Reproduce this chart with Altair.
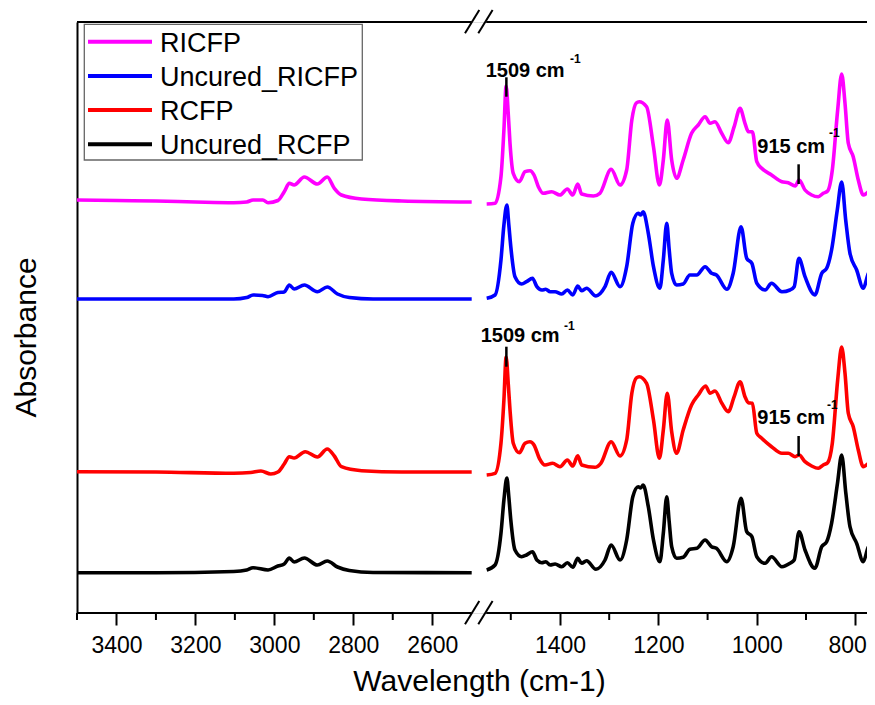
import altair as alt
import pandas as pd

FONT = "Liberation Sans"
SERIES = ["RICFP", "Uncured_RICFP", "RCFP", "Uncured_RCFP"]
COLORS = ["#ff00ff", "#0000ff", "#ff0000", "#000000"]

# ---- 3500-2500 cm-1 region ----
L_WN_RICFP = [3500, 3400, 3300, 3200, 3103, 3070, 3054, 3029, 3016, 2991, 2975, 2962, 2950, 2924, 2891, 2866, 2848, 2830, 2779, 2677, 2500]
L_AB_RICFP = [413, 412.5, 412, 411, 410.3, 411, 413, 413, 410.3, 412.5, 421.3, 429.7, 428, 436, 429, 436, 424.7, 418, 414, 412, 411]
L_WN_URICFP = [3500, 3300, 3103, 3070, 3054, 3030, 3016, 2991, 2975, 2962, 2950, 2924, 2891, 2866, 2840, 2810, 2750, 2500]
L_AB_URICFP = [314, 314, 314, 315.5, 318, 317.5, 316.3, 320.5, 321, 328, 324, 328, 321.3, 326, 319, 315.5, 314, 314]
L_WN_RCFP = [3500, 3300, 3103, 3060, 3034, 3009, 2991, 2975, 2962, 2950, 2922, 2891, 2866, 2848, 2830, 2779, 2677, 2500]
L_AB_RCFP = [141.3, 141, 139.7, 140.5, 142, 139, 141, 149, 156.3, 155, 161.3, 156, 164, 157, 146.3, 142.3, 141, 141]
L_WN_URCFP = [3500, 3300, 3103, 3070, 3054, 3016, 2991, 2975, 2962, 2950, 2924, 2891, 2866, 2840, 2810, 2750, 2500]
L_AB_URCFP = [40.3, 40.3, 41.5, 43, 45.3, 43, 47, 49, 55, 51, 55, 48, 52, 46, 42.5, 40.5, 40.3]

# ---- 1550-760 cm-1 region ----
R_WN_RICFP = [1549, 1532, 1520, 1514, 1509.5, 1505, 1501.6, 1495, 1482.7, 1471, 1461, 1452.8, 1444, 1434, 1417, 1400, 1385, 1374, 1364, 1356, 1332, 1319, 1296, 1278, 1264.5, 1254, 1245, 1239, 1224, 1210, 1198, 1190, 1182, 1173, 1163, 1149.6, 1132.6, 1119, 1105, 1095, 1085, 1071.4, 1058, 1046, 1034, 1024, 1017, 1009, 1000, 990, 970, 949, 936, 922, 914, 902, 888.5, 875, 865, 856, 846.5, 835.6, 827.5, 820.7, 814, 804, 793.7, 783.5, 773, 760]
R_AB_RICFP = [409, 409.7, 436.3, 483, 527, 498, 469.7, 439.7, 431.3, 441.3, 442.3, 438, 426.3, 419.7, 421.3, 418, 424, 418, 429, 419, 417, 419.7, 443.7, 428, 443, 493, 510, 511.3, 506.3, 466.3, 428, 453, 493, 453, 434.7, 453, 479.7, 488, 496.3, 489.7, 491.3, 479.7, 470.3, 486.3, 504.7, 489.7, 481.3, 481.3, 451.3, 444.7, 438, 431.3, 430.3, 427, 433, 423, 418, 416.3, 419.7, 422, 443, 503, 539, 509.7, 469.7, 456.3, 433, 418, 421.3, 427]
R_WN_URICFP = [1549, 1532, 1520, 1514, 1508, 1504, 1500, 1491.5, 1478, 1468, 1456, 1447, 1437, 1429, 1420, 1410, 1396.5, 1385, 1374, 1364, 1356, 1346, 1327, 1308.5, 1296, 1278, 1264.5, 1252, 1241, 1236, 1231, 1220.5, 1210, 1197, 1190, 1183, 1178, 1173, 1163, 1149.6, 1136, 1122, 1105, 1092, 1082, 1061, 1048, 1032, 1020.5, 1010, 1000, 983, 970, 949, 932.5, 924, 914.4, 902, 882, 868, 858, 848, 836.4, 827.5, 819.3, 810.6, 797, 783.5, 773, 760]
R_AB_URICFP = [314.7, 318, 353, 388, 408, 388, 366.3, 336.3, 329, 331.3, 334.7, 326.3, 323, 323.7, 321.3, 321.3, 319, 323, 318, 327, 322.3, 324.7, 317, 326.3, 340.7, 326.3, 346.3, 389.7, 399.7, 398, 401.3, 379.7, 346.3, 324.7, 353, 389.7, 363, 339.7, 328, 329, 338, 338, 346.3, 339.7, 338, 323.7, 339.7, 386.3, 354.7, 349.7, 329.7, 323, 329.7, 321.3, 323, 326.3, 354.7, 336.3, 318, 339.7, 344.7, 363, 403, 431, 393, 359.7, 343, 324.7, 339.7, 344.7]
R_WN_RCFP = [1549, 1532, 1520, 1514, 1509.5, 1505, 1501.6, 1495, 1482.7, 1471, 1461, 1452.8, 1442, 1430.5, 1415, 1400, 1385, 1374, 1364, 1356, 1329, 1317, 1296, 1278, 1264.5, 1254, 1245, 1239, 1224, 1210, 1198, 1190, 1182, 1173, 1163, 1149.6, 1132.6, 1119, 1104, 1095, 1085, 1071, 1058, 1046, 1034, 1024, 1017, 1009, 1000, 990, 970, 949, 936, 922, 914, 902, 888.5, 875, 865, 856, 846.5, 835.6, 827.5, 820.7, 814, 804, 793.7, 783.5, 773, 760]
R_AB_RCFP = [138, 139.7, 169.7, 213, 256, 228, 203, 169.7, 160.3, 169.7, 171.3, 168, 154.7, 148, 149.7, 146.3, 153, 147, 157.3, 148, 145.7, 149.7, 171.3, 157, 173, 219.7, 235, 236.3, 229.7, 193, 154.7, 183, 219.7, 181.3, 159.7, 183, 208, 218, 227, 219.7, 222, 209.7, 201.3, 216.3, 231.3, 216.3, 210.3, 209.7, 179.7, 174.7, 166.3, 159.7, 159.7, 156.3, 158, 151.3, 147, 144.7, 148, 150.3, 169.7, 233, 266, 239.7, 199.7, 186.3, 163, 146.3, 149.7, 154.7]
R_WN_URCFP = [1549, 1532, 1520, 1514, 1508, 1504, 1500, 1491.5, 1478, 1468, 1456, 1447, 1437, 1429, 1420, 1410, 1396.5, 1385, 1374, 1364, 1356, 1346, 1327, 1308.5, 1296, 1278, 1264.5, 1252, 1241, 1236, 1231, 1220.5, 1210, 1197, 1190, 1183, 1178, 1173, 1163, 1149.6, 1136, 1122, 1105, 1092, 1082, 1061, 1048, 1032, 1020.5, 1010, 1000, 983, 970, 949, 932.5, 924, 914, 902, 882, 868, 858, 848, 836, 827.5, 819, 810.6, 797, 783.5, 773, 760]
R_AB_URCFP = [43, 48, 79.7, 113, 135, 116, 93, 63, 56.3, 58, 61.3, 53, 50.3, 51.3, 48, 49, 46.3, 50.3, 45.7, 54.7, 49.7, 52.3, 43.7, 53, 68, 53, 73, 116.3, 126.3, 125, 128, 106.3, 73, 51.3, 79.7, 116.3, 91, 66.3, 54.7, 55.7, 63.7, 64.7, 73, 66.3, 64.7, 51.3, 66.3, 114.7, 81.3, 76.3, 56.3, 49.7, 56.3, 46.3, 49.7, 53, 81.3, 63, 44.7, 66.3, 71.3, 89.7, 129.7, 158, 119.7, 86.3, 69.7, 51.3, 66.3, 69.7]

# axis ticks
MAJOR_TICKS = [3400, 3200, 3000, 2800, 2600, 1400, 1200, 1000, 800]
MINOR_TICKS = [3500, 3300, 3100, 2900, 2700, 1500, 1300, 1100, 900]
SEG_START = [3500, 1550]
SEG_END = [2500, 776]

# annotations
ANN_TEXT = ["1509 cm", "915 cm", "1509 cm", "915 cm"]
ANN_WN = [1509, 915, 1509, 915]
ANN_TICK_LO = [516.3, 429, 246.3, 157]
ANN_TICK_HI = [535.7, 448.7, 266.3, 177]
ANN_TEXT_Y = [535.7, 460.3, 271.3, 189]
ANN_SUP_Y = [550.3, 476, 283, 204]

data = {
    "RICFP": [(L_WN_RICFP, L_AB_RICFP), (R_WN_RICFP, R_AB_RICFP)],
    "Uncured_RICFP": [(L_WN_URICFP, L_AB_URICFP), (R_WN_URICFP, R_AB_URICFP)],
    "RCFP": [(L_WN_RCFP, L_AB_RCFP), (R_WN_RCFP, R_AB_RCFP)],
    "Uncured_RCFP": [(L_WN_URCFP, L_AB_URCFP), (R_WN_URCFP, R_AB_URCFP)],
}
rows = []
for name, segs in data.items():
    for si, (wn, ab) in enumerate(segs):
        for w, a in zip(wn, ab):
            rows.append({"series": name, "seg": f"{name}-{si}", "wn": w, "absorb": a})
df = pd.DataFrame(rows)

W, H = 790, 591
xscale = alt.Scale(domain=[3500, 2500, 1550, 776], range=[0, 394.7, 409.2, W], nice=False, zero=False)
yscale = alt.Scale(domain=[0, 591], nice=False, zero=False)
cscale = alt.Scale(domain=SERIES, range=COLORS)

lines = alt.Chart(df).mark_line(strokeWidth=3.6, interpolate="monotone", clip=True).encode(
    x=alt.X("wn:Q", scale=xscale, axis=alt.Axis(
        values=MAJOR_TICKS, format="d", title="Wavelength (cm-1)", domain=False, grid=False,
        tickSize=12, tickWidth=2, tickColor="black",
        labelFont=FONT, labelFontSize=23, labelColor="black", labelPadding=9,
        labelFlush=False, labelOverlap=False,
        labelOffset={"condition": {"test": "datum.value == 800", "value": -8}, "value": 0},
        titleFont=FONT, titleFontSize=30, titleFontWeight="normal", titleColor="black",
        titleX=402, titleY=77, titleBaseline="alphabetic")),
    y=alt.Y("absorb:Q", scale=yscale, axis=alt.Axis(
        title="Absorbance", ticks=False, labels=False, grid=False,
        domain=True, domainColor="black", domainWidth=2,
        titleFont=FONT, titleFontSize=30, titleFontWeight="normal", titleColor="black",
        titleX=-42, titleY=315, titleBaseline="alphabetic")),
    color=alt.Color("series:N", scale=cscale, legend=None),
    detail="seg:N",
)

minor = alt.Chart(pd.DataFrame({"wn": MINOR_TICKS})).mark_rule(strokeWidth=2, color="black").encode(
    x=alt.X("wn:Q", scale=xscale), y=alt.value(H), y2=alt.value(H + 7))

seg_df = pd.DataFrame({"s": SEG_START, "e": SEG_END})
top_line = alt.Chart(seg_df).mark_rule(strokeWidth=2, color="black").encode(
    x=alt.X("s:Q", scale=xscale), x2="e:Q", y=alt.value(0))
bot_line = alt.Chart(seg_df).mark_rule(strokeWidth=2, color="black").encode(
    x=alt.X("s:Q", scale=xscale), x2="e:Q", y=alt.value(H))

one = pd.DataFrame({"a": [0]})
slashes = []
for yb in (0, H):
    for x0 in (388, 401.3):
        slashes.append(alt.Chart(one).mark_rule(strokeWidth=2, color="black").encode(
            x=alt.value(x0), x2=alt.value(x0 + 14.3), y=alt.value(yb + 11.3), y2=alt.value(yb - 12)))

# annotations
ann_df = pd.DataFrame({"wn": ANN_WN, "lo": ANN_TICK_LO, "hi": ANN_TICK_HI})
ann_ticks = alt.Chart(ann_df).mark_rule(strokeWidth=2.5, color="black").encode(
    x=alt.X("wn:Q", scale=xscale), y=alt.Y("lo:Q", scale=yscale), y2="hi:Q")
ann_layers = []
text_dx = [-20.7, -41.3, -25.7, -41.3]
sup_dx = [63.6, 30.4, 57.6, 28.4]
for i in range(4):
    r = pd.DataFrame({"wn": [ANN_WN[i]], "ty": [ANN_TEXT_Y[i]], "sy": [ANN_SUP_Y[i]], "t": [ANN_TEXT[i]], "s": ["-1"]})
    ann_layers.append(alt.Chart(r).mark_text(align="left", baseline="alphabetic", dx=text_dx[i], font=FONT,
                                             fontSize=20, fontWeight="bold", color="black").encode(
        x=alt.X("wn:Q", scale=xscale), y=alt.Y("ty:Q", scale=yscale), text="t:N"))
    ann_layers.append(alt.Chart(r).mark_text(align="left", baseline="alphabetic", dx=sup_dx[i], font=FONT,
                                             fontSize=12, fontWeight="bold", color="black").encode(
        x=alt.X("wn:Q", scale=xscale), y=alt.Y("sy:Q", scale=yscale), text="s:N"))

# legend (drawn box)
leg_df = pd.DataFrame({"series": SERIES, "row": list(range(len(SERIES)))})
leg_box = alt.Chart(one).mark_rect(fill="white", stroke="#666666", strokeWidth=1.3).encode(
    x=alt.value(7.3), x2=alt.value(285.3), y=alt.value(2.3), y2=alt.value(138))
leg_base = alt.Chart(leg_df).transform_calculate(ly="19.7 + datum.row * 34.2", ty="29.5 + datum.row * 34.2")
leg_sym = leg_base.mark_rule(strokeWidth=4).encode(
    x=alt.value(11), x2=alt.value(75), y=alt.Y("ly:Q", scale=None),
    color=alt.Color("series:N", scale=cscale, legend=None))
leg_txt = leg_base.mark_text(align="left", baseline="alphabetic", font=FONT, fontSize=27, color="black").encode(
    x=alt.value(83), y=alt.Y("ty:Q", scale=None), text="series:N")

chart = alt.layer(
    lines, minor, top_line, bot_line, *slashes, ann_ticks, *ann_layers, leg_box, leg_sym, leg_txt
).properties(
    width=W, height=H,
    padding={"left": 69, "top": 14, "right": 0, "bottom": 84},
    autosize=alt.AutoSizeParams(type="none"),
).configure_view(stroke=None).configure(background="white")

chart.save("out.html", embed_options={"renderer": "svg", "actions": False})
